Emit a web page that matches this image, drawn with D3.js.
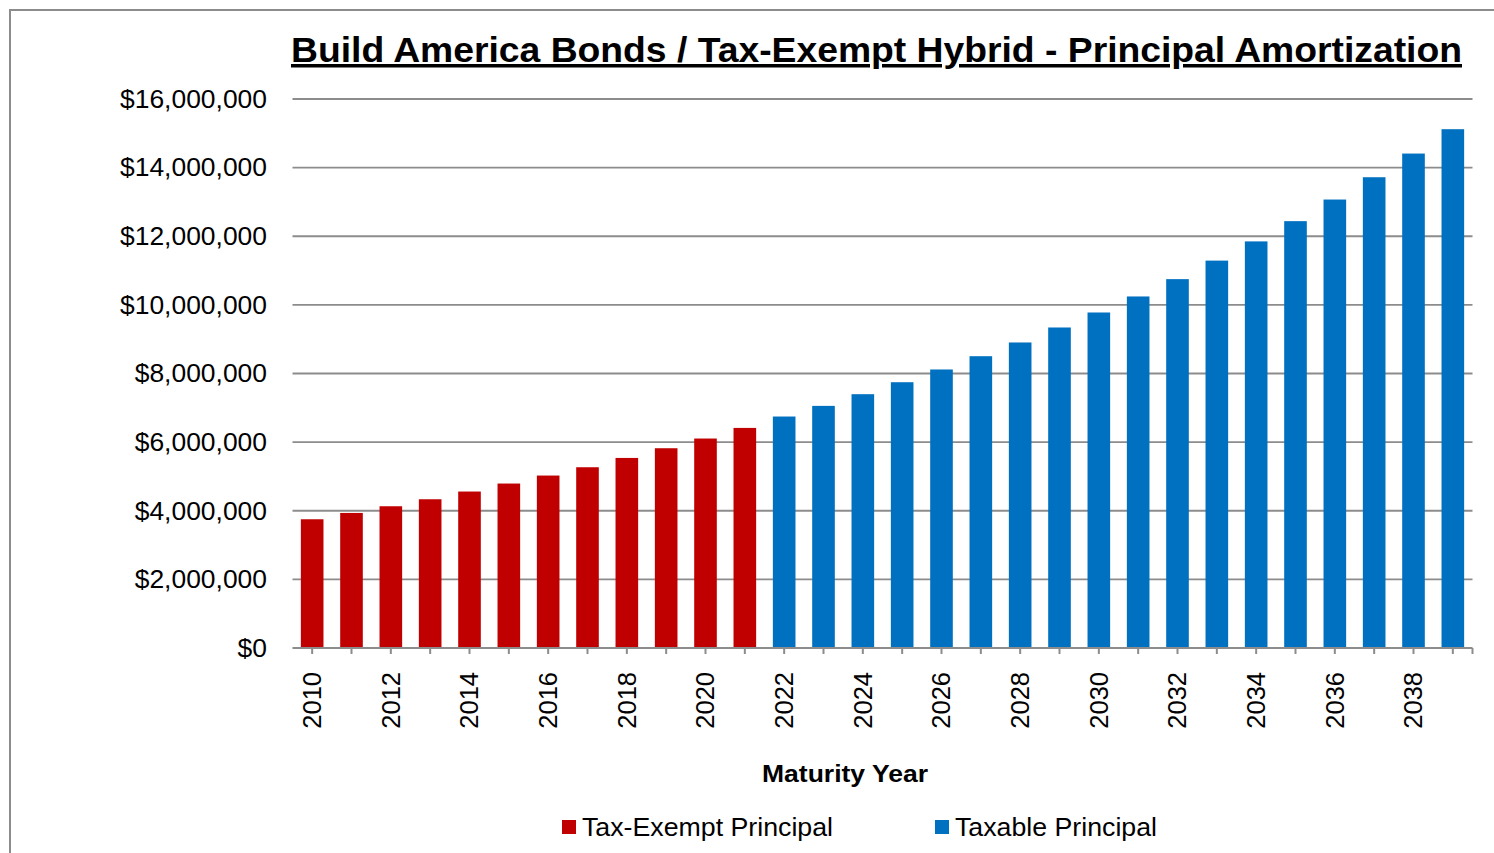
<!DOCTYPE html>
<html><head><meta charset="utf-8">
<script src="https://cdn.jsdelivr.net/npm/d3@7"></script>
<style>
html,body{margin:0;padding:0;background:#fff;}
svg{display:block;font-family:"Liberation Sans",Arial,sans-serif;}
</style></head>
<body><svg id="c" width="1494" height="853"></svg>
<script>
const years = d3.range(2010, 2040);
const taxExemptYears = d3.range(2010, 2022);
const taxExemptValues = [3.752,3.936,4.131,4.335,4.56,4.793,5.026,5.268,5.539,5.822,6.105,6.414].map(v=>v*1e6);
const taxableYears = d3.range(2022, 2040);
const taxableValues = [6.746,7.056,7.397,7.746,8.117,8.504,8.904,9.341,9.778,10.245,10.75,11.29,11.85,12.44,13.07,13.72,14.41,15.12].map(v=>v*1e6);
const yTicks = [0,2e6,4e6,6e6,8e6,10e6,12e6,14e6,16e6];
const xLabelYears = years.filter(y => y % 2 === 0);
const seriesNames = ["Tax-Exempt Principal","Taxable Principal"];
const colors = ["#C00000","#0070C0"];

const svg = d3.select("#c");
// outer frame
svg.append("rect").attr("x",10).attr("y",10).attr("width",1500).attr("height",900)
  .attr("fill","none").attr("stroke","#8c8c8c").attr("stroke-width",2);

const x = d3.scaleBand().domain(years).range([292.5,1472.5]).paddingInner(0.425).paddingOuter(0.2125);
const y = d3.scaleLinear().domain([0,16e6]).range([648,99]);

// gridlines
svg.append("g").selectAll("line").data(yTicks.slice(1)).join("line")
  .attr("x1",292.5).attr("x2",1472.5).attr("y1",d=>y(d)).attr("y2",d=>y(d))
  .attr("stroke","#8c8c8c").attr("stroke-width",1.8);

// y labels
const fmt = d => "$" + d3.format(",")(d);
svg.append("g").selectAll("text").data(yTicks).join("text")
  .attr("transform",d=>`translate(267,${y(d)}) scale(1.058,1)`)
  .attr("dy","0.35em").attr("text-anchor","end")
  .attr("font-size",25).attr("fill","#000").text(fmt);

// bars
const data = taxExemptYears.map((yr,i)=>({yr,v:taxExemptValues[i],s:0}))
  .concat(taxableYears.map((yr,i)=>({yr,v:taxableValues[i],s:1})));
svg.append("g").selectAll("rect").data(data).join("rect")
  .attr("x",d=>x(d.yr)).attr("width",x.bandwidth())
  .attr("y",d=>y(d.v)).attr("height",d=>y(0)-y(d.v))
  .attr("fill",d=>colors[d.s]);

// x axis line
svg.append("line").attr("x1",292.5).attr("x2",1472.5).attr("y1",y(0)).attr("y2",y(0))
  .attr("stroke","#8c8c8c").attr("stroke-width",2);
// ticks at band centers + end tick
const tickXs = years.map(yr=>x(yr)+x.bandwidth()/2).concat([1472.5]);
svg.append("g").selectAll("line").data(tickXs).join("line")
  .attr("x1",d=>d).attr("x2",d=>d).attr("y1",y(0)).attr("y2",y(0)+6)
  .attr("stroke","#8c8c8c").attr("stroke-width",2);

// x labels rotated
svg.append("g").selectAll("text").data(xLabelYears).join("text")
  .attr("transform",d=>`translate(${x(d)+x.bandwidth()/2},672) rotate(-90)`)
  .attr("text-anchor","end").attr("dy","0.35em")
  .attr("font-size",25.5).attr("fill","#000").text(d=>d);

// title
svg.append("text").attr("x",291).attr("y",62)
  .attr("font-size",35).attr("font-weight","bold").attr("text-decoration","underline")
  .attr("textLength",1171).attr("lengthAdjust","spacingAndGlyphs")
  .text("Build America Bonds / Tax-Exempt Hybrid - Principal Amortization");

// axis title
svg.append("text").attr("x",762).attr("y",782)
  .attr("font-size",24.5).attr("font-weight","bold")
  .attr("textLength",166).attr("lengthAdjust","spacingAndGlyphs").text("Maturity Year");

// legend
const legX = [562, 935];
const legLen = [251, 202];
const lg = svg.append("g").selectAll("g").data(seriesNames).join("g")
  .attr("transform",(d,i)=>`translate(${legX[i]},0)`);
lg.append("rect").attr("x",0).attr("y",820).attr("width",14).attr("height",14).attr("fill",(d,i)=>colors[i]);
lg.append("text").attr("x",20).attr("y",836).attr("font-size",25)
  .attr("textLength",(d,i)=>legLen[i]).attr("lengthAdjust","spacingAndGlyphs").text(d=>d);
</script></body></html>
